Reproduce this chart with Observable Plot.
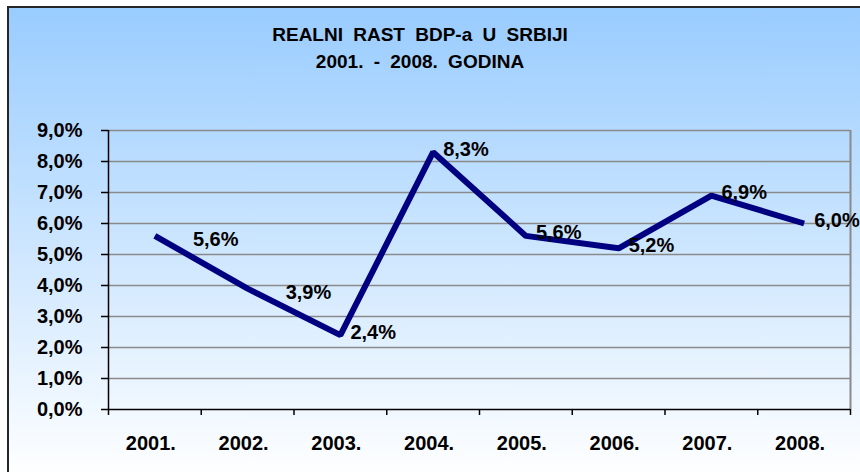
<!DOCTYPE html>
<html>
<head>
<meta charset="utf-8">
<script src="https://cdn.jsdelivr.net/npm/d3@7"></script>
<script src="https://cdn.jsdelivr.net/npm/@observablehq/plot@0.6"></script>
<style>
  body { margin: 0; background: #fff; }
  #chart { position: relative; width: 860px; height: 472px; overflow: hidden; background: #fff; font-family: "Liberation Sans", Arial, sans-serif; }
  #box { position: absolute; left: 7px; top: 6px; width: 900px; height: 520px; border-top: 2px solid #262626; border-left: 2px solid #262626; background: linear-gradient(to bottom, #99ccff 0px, #ffffff 470px); }
  #title { position: absolute; left: 0; width: 840px; top: 21px; text-align: center; font-weight: bold; font-size: 19px; line-height: 27px; word-spacing: 5px; color: #000; }
  #plot { position: absolute; left: 0; top: 0; }
</style>
</head>
<body>
<div id="chart">
  <div id="box"></div>
  <div id="title">REALNI RAST BDP-a U SRBIJI<br>2001. - 2008. GODINA</div>
  <div id="plot"></div>
</div>
<script>
const years = ["2001.", "2002.", "2003.", "2004.", "2005.", "2006.", "2007.", "2008."];
const growth = [5.6, 3.9, 2.4, 8.3, 5.6, 5.2, 6.9, 6.0];
const yTicks = [0, 1, 2, 3, 4, 5, 6, 7, 8, 9];

const data = years.map((year, i) => ({year, pos: i + 1, value: growth[i]}));
const pct = v => v.toFixed(1).replace(".", ",") + "%";
const boundaries = d3.range(0.5, years.length + 1, 1);
const centers = years.map((_, i) => i + 1);
const labelStyle = {x: "pos", y: "value", text: d => pct(d.value), textAnchor: "start", fontSize: 20, fontWeight: "bold", fill: "#000"};

const chart = Plot.plot({
  width: 860,
  height: 472,
  marginLeft: 108,
  marginRight: 10,
  marginTop: 130,
  marginBottom: 63,
  style: {background: "transparent", fontFamily: "'Liberation Sans', Arial, sans-serif", fontWeight: "bold", fontSize: "20px", color: "#000", overflow: "visible"},
  x: {type: "linear", domain: [0.5, years.length + 0.5]},
  y: {domain: [0, 9]},
  marks: [
    Plot.ruleY(yTicks.filter(d => d > 0), {stroke: "#8a8a8a", strokeWidth: 1.5, strokeOpacity: 1}),
    Plot.ruleX([years.length + 0.5], {y1: 0, y2: 9, stroke: "#8a8a8a", strokeWidth: 2, strokeOpacity: 1}),
    Plot.ruleX([0.5], {y1: 0, y2: 9, stroke: "#000", strokeWidth: 1.5}),
    Plot.ruleY([0], {stroke: "#000", strokeWidth: 1.5}),
    Plot.axisY({ticks: yTicks, tickSize: 7, tickPadding: 19, tickFormat: pct, strokeWidth: 1.5, fontSize: 20, fontWeight: "bold", label: null}),
    Plot.axisX({ticks: boundaries, tickSize: 6, tickFormat: () => "", strokeWidth: 1.5, label: null}),
    Plot.axisX({ticks: centers, tickSize: 0, tickPadding: 26, tickFormat: i => years[i - 1], fontSize: 20, fontWeight: "bold", dx: -4, label: null}),
    Plot.line(data, {x: "pos", y: "value", stroke: "#000080", strokeWidth: 6, strokeLinejoin: "miter", strokeLinecap: "butt"}),
    Plot.text(data.slice(0, 2), {...labelStyle, dx: 38, dy: 4}),
    Plot.text(data.slice(2), {...labelStyle, dx: 10, dy: -3})
  ]
});
document.getElementById("plot").appendChild(chart);
</script>
</body>
</html>
